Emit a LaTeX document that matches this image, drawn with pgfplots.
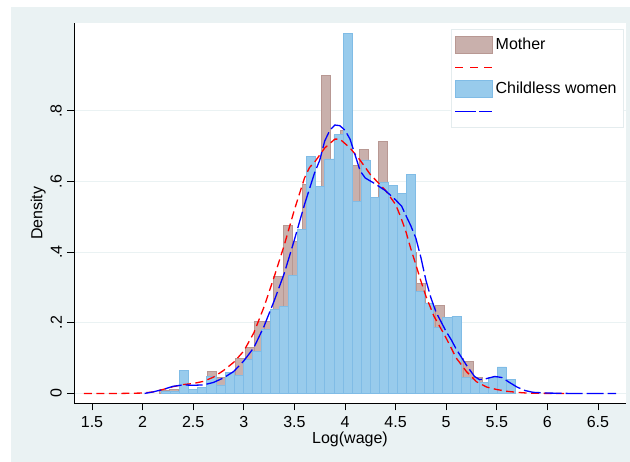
\documentclass[border=0pt]{standalone}
\usepackage{fontspec}
\setmainfont{Liberation Sans}
\usepackage{pgfplots}
\pgfplotsset{compat=1.18}
\usepackage{pgfplotstable}

\definecolor{bgcol}{RGB}{234,242,243}
\definecolor{gridcol}{RGB}{234,242,243}
\definecolor{brownfill}{RGB}{201,176,172}
\definecolor{browndraw}{RGB}{184,152,147}
\definecolor{bluefill}{RGB}{152,203,236}
\definecolor{bluedraw}{RGB}{128,188,230}
\definecolor{legdraw}{RGB}{228,236,238}

\pgfplotsset{
  legrect/.style={legend image code/.code={\draw[##1] (0pt,-8.5pt) rectangle (37pt,8.5pt);}},
  legred/.style={legend image code/.code={%
    \fill[##1] (0pt,-0.7pt) rectangle (8pt,0.7pt);
    \fill[##1] (14.5pt,-0.7pt) rectangle (22.5pt,0.7pt);
    \fill[##1] (29pt,-0.7pt) rectangle (37pt,0.7pt);}},
  legblue/.style={legend image code/.code={%
    \fill[##1] (0pt,-0.7pt) rectangle (20.7pt,0.7pt);
    \fill[##1] (23.7pt,-0.7pt) rectangle (37pt,0.7pt);}},
}

% Mother histogram: left edge, density
\pgfplotstableread{
x y
2.1674 0.008
2.2613 0.010
2.3553 0.011
2.4492 0.011
2.5431 0.015
2.6371 0.063
2.7310 0.045
2.8249 0.058
2.9189 0.100
3.0128 0.129
3.1067 0.205
3.2006 0.205
3.2946 0.332
3.3885 0.476
3.4824 0.430
3.5764 0.591
3.6703 0.550
3.7642 0.900
3.8581 0.640
3.9521 0.745
4.0460 0.646
4.1399 0.692
4.2339 0.520
4.3278 0.714
4.4217 0.570
4.5156 0.540
4.6096 0.400
4.7035 0.311
4.7974 0.240
4.8914 0.250
4.9853 0.170
5.0792 0.100
5.1732 0.090
5.2671 0.045
5.3610 0.020
5.4549 0.012
5.5489 0.006
5.6428 0
}\mother

% Childless women histogram: left edge, density
\pgfplotstableread{
x y
2.1868 0.006
2.2765 0.005
2.3662 0.065
2.4559 0.011
2.5456 0.017
2.6353 0.047
2.7249 0.024
2.8146 0.060
2.9043 0.050
2.9940 0.096
3.0837 0.119
3.1733 0.181
3.2630 0.239
3.3527 0.247
3.4424 0.334
3.5321 0.464
3.6217 0.671
3.7114 0.586
3.8011 0.664
3.8908 0.732
3.9805 1.019
4.0701 0.543
4.1598 0.661
4.2495 0.556
4.3392 0.598
4.4289 0.590
4.5185 0.567
4.6082 0.620
4.6979 0.289
4.7876 0.256
4.8773 0.188
4.9669 0.215
5.0566 0.218
5.1463 0.046
5.2360 0.039
5.3257 0.030
5.4153 0.044
5.5050 0.075
5.5947 0.040
5.6844 0
}\childless

% Kernel density, mothers
\pgfplotstableread{
x y
1.42 0
1.6 0
1.8 0
2.0 0.001
2.1 0.004
2.2 0.011
2.3 0.019
2.4 0.025
2.5 0.028
2.6 0.034
2.7 0.046
2.8 0.065
2.9 0.088
3.0 0.120
3.1 0.172
3.2 0.245
3.3 0.330
3.4 0.420
3.5 0.520
3.6 0.610
3.65 0.640
3.7 0.655
3.8 0.695
3.9 0.720
3.95 0.720
4.05 0.695
4.15 0.660
4.25 0.620
4.4 0.575
4.5 0.535
4.55 0.500
4.6 0.460
4.65 0.410
4.7 0.365
4.75 0.318
4.8 0.275
4.88 0.218
4.99 0.162
5.1 0.100
5.2 0.062
5.3 0.033
5.4 0.018
5.5 0.011
5.6 0.006
5.7 0.003
5.8 0.001
6.0 0
6.2 0
}\kmother

% Kernel density, childless women
\pgfplotstableread{
x y
2.02 0
2.1 0.004
2.2 0.011
2.3 0.020
2.4 0.024
2.5 0.023
2.6 0.024
2.7 0.031
2.8 0.044
2.9 0.062
3.0 0.092
3.1 0.130
3.2 0.190
3.3 0.262
3.4 0.340
3.5 0.435
3.6 0.535
3.65 0.580
3.7 0.625
3.75 0.660
3.8 0.715
3.85 0.745
3.9 0.760
3.95 0.758
4.0 0.745
4.05 0.720
4.1 0.675
4.15 0.630
4.2 0.610
4.3 0.593
4.4 0.574
4.5 0.548
4.56 0.530
4.6 0.505
4.65 0.475
4.7 0.440
4.75 0.385
4.8 0.320
4.85 0.270
4.9 0.230
5.0 0.175
5.05 0.152
5.1 0.125
5.2 0.080
5.28 0.048
5.33 0.039
5.4 0.042
5.48 0.048
5.55 0.045
5.62 0.032
5.7 0.018
5.78 0.008
5.86 0.003
6.0 0.001
6.2 0
6.5 0
6.68 0
}\kchildless

\begin{document}
\begin{tikzpicture}[x=1pt,y=1pt]
\useasboundingbox (0,0) rectangle (630,462);
\fill[white] (0,0) rectangle (630,462);
\fill[bgcol] (11,0) rectangle (630,455);
\begin{axis}[
  at={(74pt,58.7pt)}, anchor=south west,
  scale only axis, width=552pt, height=380pt,
  xmin=1.322, xmax=6.777, ymin=-0.028, ymax=1.048,
  axis x line*=bottom, axis y line*=left,
  axis line style={black, line width=0.8pt},
  axis background/.style={fill=white},
  xtick={1.5,2,2.5,3,3.5,4,4.5,5,5.5,6,6.5},
  xticklabels={1.5,2,2.5,3,3.5,4,4.5,5,5.5,6,6.5},
  ytick={0,0.2,0.4,0.6,0.8},
  yticklabels={0,.2,.4,.6,.8},
  tick align=outside, major tick length=7pt,
  tick style={black, line width=0.8pt},
  ymajorgrids, grid style={gridcol, line width=1.2pt},
  ticklabel style={font=\fontsize{16}{19}\selectfont},
  xticklabel style={inner sep=0pt, yshift=-6pt},
  yticklabel style={rotate=90, anchor=south, inner sep=5pt},
  xlabel={Log(wage)}, ylabel={Density},
  label style={font=\fontsize{16}{19}\selectfont},
  xlabel style={at={(rel axis cs:0.5,-0.0939)}, anchor=center},
  ylabel style={at={(rel axis cs:-0.0647,0.5)}, anchor=center},
  legend style={at={(0.6824,0.985)}, anchor=north west,
    draw=legdraw, fill=white,
    font=\fontsize{16}{19}\selectfont,
    row sep=4.1pt, inner xsep=4pt, inner ysep=7pt,
    nodes={inner xsep=3pt, inner ysep=2pt, text height=11pt, text depth=3pt}},
  legend cell align=left,
]
\addlegendimage{fill=brownfill, draw=browndraw, line width=0.8pt, legrect}
\addlegendentry{Mother}
\addlegendimage{fill=red, draw=none, legred}
\addlegendentry{\phantom{M}}
\addlegendimage{fill=bluefill, draw=bluedraw, line width=0.8pt, legrect}
\addlegendentry{Childless women}
\addlegendimage{fill=blue, draw=none, legblue}
\addlegendentry{\phantom{M}}

\addplot[ybar interval, fill=brownfill, draw=browndraw, line width=0.8pt, forget plot] table[x=x,y=y] {\mother};
\addplot[ybar interval, fill=bluefill, draw=bluedraw, line width=0.8pt, forget plot] table[x=x,y=y] {\childless};
\addplot[red, line width=1.3pt, dash pattern=on 8pt off 4.5pt, forget plot] table[x=x,y=y] {\kmother};
\addplot[blue, line width=1.3pt, dash pattern=on 17pt off 4pt, forget plot] table[x=x,y=y] {\kchildless};
\end{axis}
\end{tikzpicture}
\end{document}
